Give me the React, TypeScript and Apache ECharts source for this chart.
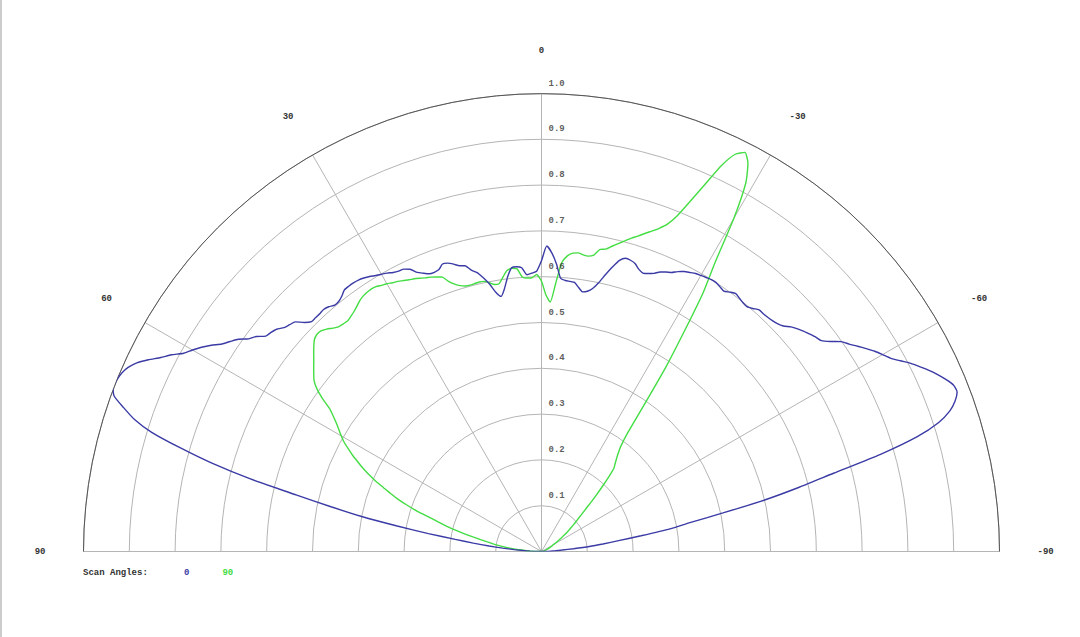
import { useEffect, useRef } from "react";
import * as echarts from "echarts";

// sampling grid: scan position in degrees, 0 = top, positive to the left
const ANGLES = Array.from({ length: 181 }, (_, i) => i - 90);

// normalised intensity for scan angle 0, read at each degree from -90 to 90
const SCAN_0 = [
  0.0, 0.01, 0.02, 0.03, 0.045, 0.07, 0.105, 0.135, 0.17, 0.22,
  0.285, 0.33, 0.405, 0.5, 0.58, 0.66, 0.77, 0.858, 0.912, 0.943,
  0.961, 0.972, 0.97, 0.96, 0.948, 0.935, 0.92, 0.905, 0.887, 0.871,
  0.86, 0.849, 0.836, 0.823, 0.81, 0.799, 0.78, 0.765, 0.76, 0.754,
  0.748, 0.741, 0.733, 0.722, 0.716, 0.713, 0.711, 0.71, 0.71, 0.703,
  0.698, 0.699, 0.702, 0.705, 0.7, 0.694, 0.697, 0.7, 0.7, 0.698,
  0.696, 0.694, 0.69, 0.686, 0.68, 0.672, 0.668, 0.663, 0.655, 0.65,
  0.647, 0.652, 0.661, 0.665, 0.666, 0.658, 0.64, 0.62, 0.6, 0.585,
  0.577, 0.574, 0.582, 0.592, 0.593, 0.594, 0.598, 0.628, 0.652, 0.667,
  0.635, 0.612, 0.608, 0.605, 0.621, 0.624, 0.623, 0.605, 0.58, 0.564,
  0.575, 0.595, 0.611, 0.625, 0.633, 0.646, 0.649, 0.656, 0.662, 0.664,
  0.655, 0.653, 0.654, 0.66, 0.667, 0.68, 0.686, 0.687, 0.69, 0.695,
  0.699, 0.703, 0.708, 0.712, 0.715, 0.716, 0.716, 0.715, 0.708, 0.703,
  0.702, 0.708, 0.711, 0.71, 0.71, 0.71, 0.72, 0.735, 0.74, 0.745,
  0.755, 0.76, 0.764, 0.78, 0.79, 0.808, 0.82, 0.832, 0.85, 0.866,
  0.88, 0.893, 0.915, 0.933, 0.955, 0.975, 0.988, 0.996, 1.0, 1.002,
  0.993, 0.965, 0.935, 0.89, 0.82, 0.745, 0.655, 0.55, 0.47, 0.4,
  0.32, 0.25, 0.19, 0.15, 0.115, 0.085, 0.06, 0.04, 0.025, 0.012,
  0.0,
];

// normalised intensity for scan angle 90
const SCAN_90 = [
  0.0, 0.001, 0.002, 0.002, 0.003, 0.003, 0.004, 0.004, 0.005, 0.005,
  0.005, 0.006, 0.006, 0.007, 0.007, 0.008, 0.008, 0.009, 0.009, 0.01,
  0.01, 0.012, 0.014, 0.016, 0.018, 0.02, 0.022, 0.024, 0.026, 0.028,
  0.03, 0.035, 0.04, 0.045, 0.05, 0.056, 0.063, 0.07, 0.077, 0.084,
  0.092, 0.1, 0.11, 0.122, 0.136, 0.155, 0.175, 0.197, 0.22, 0.241,
  0.25, 0.26, 0.272, 0.288, 0.32, 0.39, 0.485, 0.57, 0.665, 0.735,
  0.84, 0.92, 0.96, 0.978, 0.965, 0.93, 0.877, 0.83, 0.79, 0.765,
  0.751, 0.74, 0.73, 0.72, 0.712, 0.702, 0.693, 0.684, 0.675, 0.672,
  0.657, 0.653, 0.654, 0.657, 0.655, 0.648, 0.632, 0.585, 0.545, 0.56,
  0.59, 0.605, 0.598, 0.598, 0.601, 0.62, 0.622, 0.618, 0.605, 0.592,
  0.592, 0.598, 0.603, 0.604, 0.603, 0.602, 0.603, 0.607, 0.614, 0.624,
  0.638, 0.642, 0.646, 0.649, 0.653, 0.657, 0.66, 0.664, 0.668, 0.671,
  0.675, 0.678, 0.682, 0.683, 0.682, 0.68, 0.676, 0.67, 0.665, 0.661,
  0.658, 0.659, 0.661, 0.667, 0.675, 0.681, 0.682, 0.678, 0.669, 0.659,
  0.649, 0.64, 0.631, 0.622, 0.607, 0.585, 0.558, 0.542, 0.528, 0.516,
  0.505, 0.493, 0.478, 0.463, 0.446, 0.43, 0.412, 0.393, 0.372, 0.353,
  0.333, 0.31, 0.286, 0.257, 0.235, 0.215, 0.195, 0.174, 0.153, 0.134,
  0.12, 0.107, 0.095, 0.082, 0.07, 0.057, 0.045, 0.033, 0.022, 0.011,
  0.0,
];

const RING_VALUES = [0.1, 0.2, 0.3, 0.4, 0.5, 0.6, 0.7, 0.8, 0.9, 1.0];
const RING_LABELS = ["0.1", "0.2", "0.3", "0.4", "0.5", "0.6", "0.7", "0.8", "0.9", "1.0"];

const SCAN_NAMES = ["0", "90"];
const SCAN_COLORS = ["#3b3ba6", "#44dd44"];

const font = {
  fontFamily: "Liberation Mono",
  fontSize: 9,
  fontWeight: "bold" as const,
  color: "#333",
};

export default function App() {
  const ref = useRef<HTMLDivElement>(null);

  useEffect(() => {
    document.body.style.margin = "0";
    if (!ref.current) return;
    const chart = echarts.init(ref.current, undefined, { renderer: "svg" });

    const scans = [SCAN_0, SCAN_90];

    chart.setOption({
      animation: false,
      backgroundColor: "#fff",
      title: {
        text: "Scan Angles:",
        left: 81,
        top: 568,
        padding: 0,
        textStyle: { ...font },
      },
      legend: {
        left: 177,
        top: 566,
        padding: 0,
        icon: "none",
        itemWidth: 0,
        itemGap: 28,
        selectedMode: false,
        data: SCAN_NAMES.map((name, i) => ({
          name,
          textStyle: { ...font, color: SCAN_COLORS[i] },
        })),
      },
      polar: { center: [539.5, 551.5], radius: 458 },
      angleAxis: {
        type: "value",
        min: -90,
        max: 90,
        interval: 30,
        startAngle: 0,
        endAngle: 180,
        clockwise: false,
        axisLine: { lineStyle: { color: "#555", width: 1 } },
        axisTick: { show: false },
        axisLabel: { margin: 38, ...font },
        splitLine: { lineStyle: { color: "#b5b5b5", width: 1 } },
      },
      radiusAxis: {
        type: "value",
        min: 0,
        max: 1,
        interval: 0.1,
        axisLine: { show: false },
        axisTick: { show: false },
        axisLabel: { show: false },
        splitLine: { lineStyle: { color: "#b5b5b5", width: 1 } },
      },
      series: [
        {
          name: "rings",
          type: "scatter",
          coordinateSystem: "polar",
          silent: true,
          symbolSize: 0,
          itemStyle: { color: "transparent" },
          label: {
            show: true,
            position: "right",
            distance: 7,
            offset: [0, -10],
            ...font,
          },
          data: RING_VALUES.map((r, i) => ({
            value: [r, 0],
            label: { formatter: RING_LABELS[i] },
          })),
        },
        ...scans.map((vals, i) => ({
          name: SCAN_NAMES[i],
          type: "line",
          coordinateSystem: "polar",
          showSymbol: false,
          symbol: "none",
          smooth: 0.2,
          lineStyle: { color: SCAN_COLORS[i], width: 1.4 },
          itemStyle: { color: SCAN_COLORS[i] },
          data: ANGLES.map((a, j) => [vals[j], a]),
          z: 3 - i,
        })),
      ],
    });

    return () => chart.dispose();
  }, []);

  return (
    <div
      ref={ref}
      style={{ width: 1080, height: 637, boxSizing: "border-box", borderLeft: "2px solid #ccc" }}
    />
  );
}
